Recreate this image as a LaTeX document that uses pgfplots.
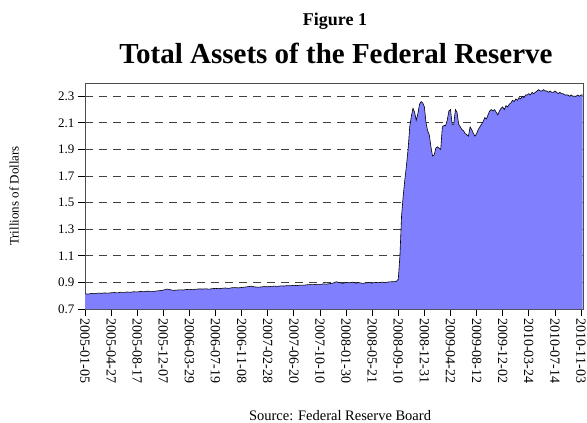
\documentclass[border=0pt]{standalone}
\usepackage{fontspec}
\setmainfont{Liberation Serif}
\usepackage{pgfplots}
\usepackage{pgfplotstable}
\pgfplotsset{compat=1.18}
\definecolor{areablue}{RGB}{128,128,255}
\pgfplotstableread{
w v
0 0.815
2 0.812
4 0.818
6 0.815
8 0.820
10 0.818
12 0.821
14 0.819
16 0.822
18 0.824
20 0.821
22 0.826
24 0.825
26 0.828
28 0.826
30 0.830
32 0.828
34 0.832
36 0.830
38 0.834
40 0.833
42 0.832
44 0.836
46 0.838
48 0.842
50 0.850
52 0.846
54 0.840
56 0.842
58 0.844
60 0.843
62 0.846
64 0.848
66 0.845
68 0.849
70 0.851
72 0.850
74 0.852
76 0.849
78 0.853
80 0.855
82 0.853
84 0.856
86 0.858
88 0.855
90 0.860
92 0.861
94 0.859
96 0.862
98 0.865
100 0.868
102 0.872
104 0.866
106 0.864
108 0.866
110 0.869
112 0.867
114 0.870
116 0.872
118 0.870
120 0.874
122 0.873
124 0.876
126 0.875
128 0.878
130 0.876
132 0.880
134 0.879
136 0.882
138 0.884
140 0.883
142 0.886
144 0.885
146 0.889
148 0.887
150 0.891
152 0.895
154 0.905
156 0.898
158 0.893
160 0.900
162 0.897
164 0.902
166 0.895
168 0.898
170 0.893
172 0.896
174 0.899
176 0.895
178 0.900
180 0.898
182 0.902
184 0.900
186 0.903
188 0.905
190 0.906
191 0.910
192 0.925
193 1.10
194 1.40
195 1.55
196 1.67
197 1.78
198 1.90
199 2.07
200 2.15
201 2.21
202 2.18
203 2.12
204 2.17
205 2.24
206 2.26
207 2.25
208 2.22
209 2.10
210 2.04
211 2.01
212 1.92
213 1.85
214 1.86
215 1.91
216 1.92
217 1.91
218 1.90
219 2.07
220 2.08
221 2.08
222 2.12
223 2.19
224 2.20
225 2.09
226 2.09
227 2.20
228 2.18
229 2.09
230 2.07
231 2.05
232 2.04
233 2.02
234 2.01
235 2.00
236 2.07
237 2.05
238 2.02
239 2.00
240 2.02
241 2.05
242 2.07
243 2.09
244 2.11
245 2.14
246 2.13
247 2.16
248 2.19
249 2.20
250 2.19
251 2.20
252 2.18
253 2.16
254 2.19
255 2.21
256 2.22
257 2.20
258 2.23
259 2.22
260 2.24
261 2.25
262 2.27
263 2.26
264 2.28
265 2.27
266 2.29
267 2.28
268 2.30
269 2.29
270 2.31
271 2.31
272 2.32
273 2.31
274 2.33
275 2.32
276 2.33
277 2.34
278 2.35
279 2.34
280 2.34
281 2.35
282 2.34
283 2.34
284 2.33
285 2.34
286 2.33
287 2.33
288 2.34
289 2.33
290 2.32
291 2.33
292 2.32
293 2.32
294 2.31
295 2.31
296 2.31
297 2.30
298 2.31
299 2.30
300 2.30
301 2.30
302 2.31
303 2.30
304 2.31
305 2.31
}\fedassets
\begin{document}
\begin{tikzpicture}
\useasboundingbox (0,0) rectangle (587bp,-423bp);
\begin{axis}[
  at={(85bp,-309bp)}, anchor=south west,
  scale only axis, width=498bp, height=226bp,
  xmin=0, xmax=305.2, ymin=0.7, ymax=2.4,
  xtick={0,16,...,304},
  xticklabels={2005-01-05,2005-04-27,2005-08-17,2005-12-07,2006-03-29,2006-07-19,2006-11-08,2007-02-28,2007-06-20,2007-10-10,2008-01-30,2008-05-21,2008-09-10,2008-12-31,2009-04-22,2009-08-12,2009-12-02,2010-03-24,2010-07-14,2010-11-03},
  ytick={0.7,0.9,1.1,1.3,1.5,1.7,1.9,2.1,2.3},
  yticklabel style={/pgf/number format/fixed,/pgf/number format/precision=1,/pgf/number format/fixed zerofill, font=\fontsize{13bp}{13bp}\selectfont},
  /pgf/number format/assume math mode=true,
  xticklabel style={rotate=-90, anchor=west, font=\fontsize{14bp}{14bp}\selectfont, inner sep=2bp},
  tick pos=left, tick align=outside, major tick length=7bp,
  tick style={black, line width=0.8bp},
  ymajorgrids, major grid style={black!75, line width=0.8bp, dash pattern=on 8bp off 6bp},
  axis line style={black!70, line width=0.8bp},
  clip=true,
]
\addplot[fill=areablue, draw=none] table[x=w, y=v] {\fedassets} \closedcycle;
\addplot[black, line width=0.6bp, mark=none] table[x=w, y=v] {\fedassets};
\end{axis}
\node[anchor=base, font=\bfseries\fontsize{18bp}{18bp}\selectfont] at (335bp,-25bp) {Figure 1};
\node[anchor=base, font=\bfseries\fontsize{29bp}{29bp}\selectfont] at (336bp,-63bp) {Total Assets of the Federal Reserve};
\node[rotate=90, font=\fontsize{13bp}{13bp}\selectfont] at (14bp,-196bp) {Trillions of Dollars};
\node[anchor=base, font=\fontsize{14.5bp}{14.5bp}\selectfont] at (340bp,-420bp) {Source: Federal Reserve Board};
\end{tikzpicture}
\end{document}
